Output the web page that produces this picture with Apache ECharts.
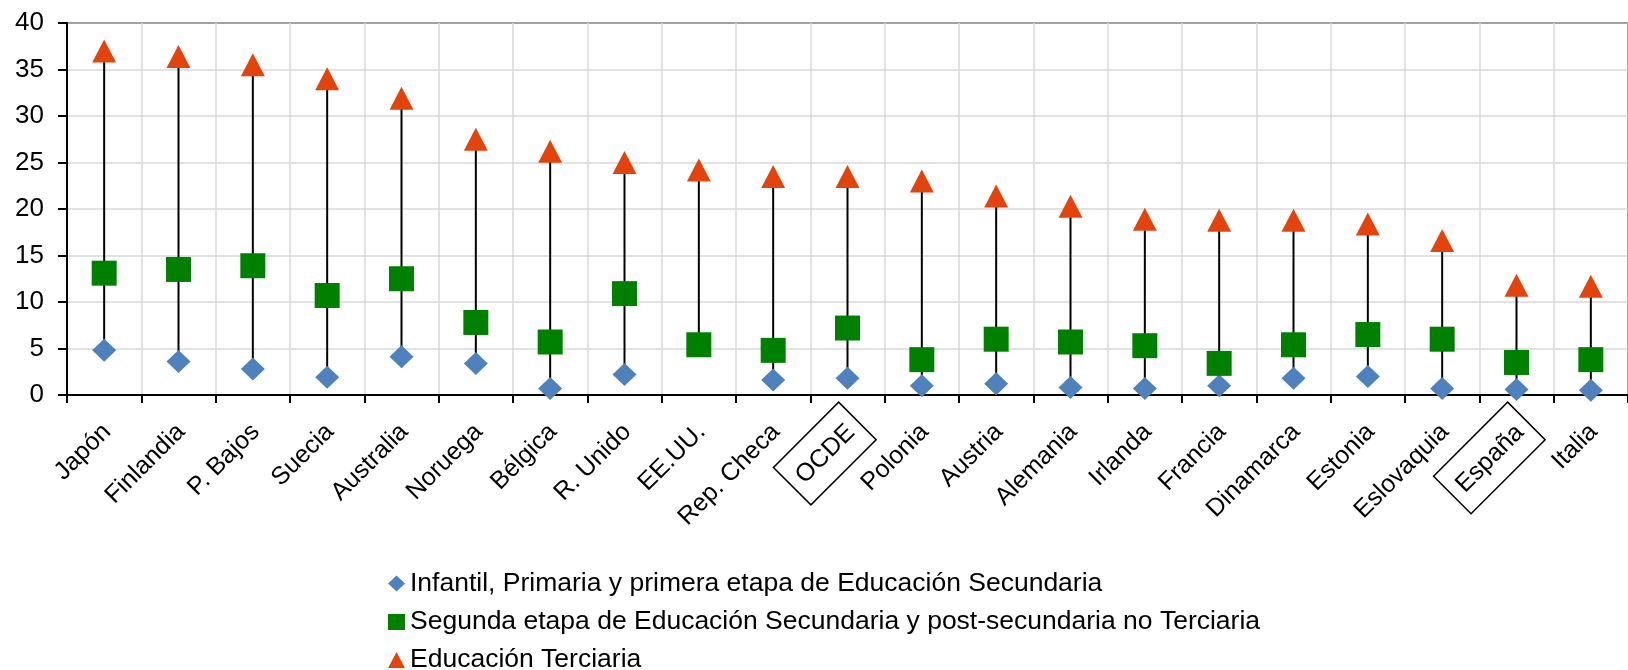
<!DOCTYPE html>
<html>
<head>
<meta charset="utf-8">
<script src="https://cdn.jsdelivr.net/npm/echarts@6/dist/echarts.min.js"></script>
<style>
html,body{margin:0;padding:0;background:#fff;}
#chart{width:1628px;height:670px;}
</style>
</head>
<body>
<div id="chart"></div>
<script>
const categories = ['Japón','Finlandia','P. Bajos','Suecia','Australia','Noruega','Bélgica','R. Unido','EE.UU.','Rep. Checa','OCDE','Polonia','Austria','Alemania','Irlanda','Francia','Dinamarca','Estonia','Eslovaquia','España','Italia'];
const boxedLabels = ['OCDE','España'];
const seriesNames = ['Infantil, Primaria y primera etapa de Educación Secundaria','Segunda etapa de Educación Secundaria y post-secundaria no Terciaria','Educación Terciaria'];
const seriesSymbols = ['diamond','rect','triangle'];
const primaria = [4.8,3.6,2.8,1.9,4.1,3.4,0.7,2.2,null,1.6,1.8,1.0,1.2,0.8,0.7,1.0,1.8,2.0,0.7,0.6,0.5];
const secundaria = [13.1,13.5,13.9,10.7,12.5,7.8,5.7,10.9,5.4,4.8,7.2,3.8,6.0,5.7,5.3,3.4,5.4,6.5,6.0,3.5,3.8];
const terciaria = [37.0,36.4,35.5,34.0,31.9,27.5,26.2,25.0,24.2,23.5,23.5,23.0,21.4,20.3,18.9,18.8,18.8,18.4,16.6,11.8,11.7];
const yTicks = {min:0, max:40, interval:5};

const rangeData = categories.map((c,i)=>{
  const vals=[primaria[i],secundaria[i],terciaria[i]].filter(v=>v!=null);
  return [i, Math.min(...vals), Math.max(...vals)];
});

const FONT = '"Liberation Sans", Arial, sans-serif';
const legendTops = [570, 608.5, 646.5];
const chart = echarts.init(document.getElementById('chart'));
chart.setOption({
  animation:false,
  textStyle:{fontFamily:FONT},
  grid:{left:67, top:23, bottom:275, right:-20.3, show:true, borderColor:'#000', borderWidth:2, backgroundColor:'transparent'},
  legend: seriesNames.map((n,i)=>({
    orient:'vertical', left:388, top:legendTops[i], padding:0,
    itemWidth:17, itemHeight:16, itemGap:0,
    data:[{name:n, icon:seriesSymbols[i]}], selectedMode:false,
    textStyle:{fontFamily:FONT, fontSize:26.5, color:'#000', lineHeight:26}
  })),
  xAxis:{
    type:'category', data:categories, boundaryGap:true,
    axisLine:{lineStyle:{color:'#000', width:2}},
    axisTick:{show:true, length:8, lineStyle:{color:'#000', width:2}},
    splitLine:{show:true, lineStyle:{color:'#D9D9D9', width:1.5}},
    axisLabel:{
      rotate:45, interval:0, fontSize:25, color:'#000', fontFamily:FONT, margin:16,
      padding:[28,0,0,0],
      formatter:v=> boxedLabels.includes(v) ? '{box|'+v+'}' : '{plain|'+v+'}',
      rich:{
        plain:{fontSize:25, fontFamily:FONT, color:'#000', padding:[0,10,0,0]},
        box:{fontSize:25, fontFamily:FONT, color:'#000', borderColor:'#000', borderWidth:1.5, padding:[15,10,13,10]}
      }
    }
  },
  yAxis:{
    type:'value', min:yTicks.min, max:yTicks.max, interval:yTicks.interval,
    axisLine:{show:true, lineStyle:{color:'#000', width:2}},
    axisTick:{show:true, length:9, lineStyle:{color:'#000', width:2}},
    splitLine:{show:true, lineStyle:{color:'#D9D9D9', width:1.5}},
    axisLabel:{fontSize:26, color:'#000', fontFamily:FONT, margin:23}
  },
  series:[
    {
      type:'custom', name:'range', z:1, silent:true,
      data:rangeData,
      encode:{x:0, y:[1,2]},
      renderItem:(params, api)=>{
        const p1 = api.coord([api.value(0), api.value(1)]);
        const p2 = api.coord([api.value(0), api.value(2)]);
        return {type:'line', shape:{x1:p1[0], y1:p1[1], x2:p2[0], y2:p2[1]}, style:{stroke:'#000', lineWidth:2}};
      }
    },
    {type:'scatter', name:seriesNames[0], z:3, data:primaria.map(v=>v==null?'-':v), symbol:seriesSymbols[0], symbolSize:[24,23], itemStyle:{color:'#4F81BD', opacity:1}},
    {type:'scatter', name:seriesNames[1], z:3, data:secundaria, symbol:seriesSymbols[1], symbolSize:[25,25], itemStyle:{color:'#008000', opacity:1}},
    {type:'scatter', name:seriesNames[2], z:3, data:terciaria, symbol:seriesSymbols[2], symbolSize:[24,23], itemStyle:{color:'#E3440E', opacity:1}}
  ]
});
</script>
</body>
</html>
